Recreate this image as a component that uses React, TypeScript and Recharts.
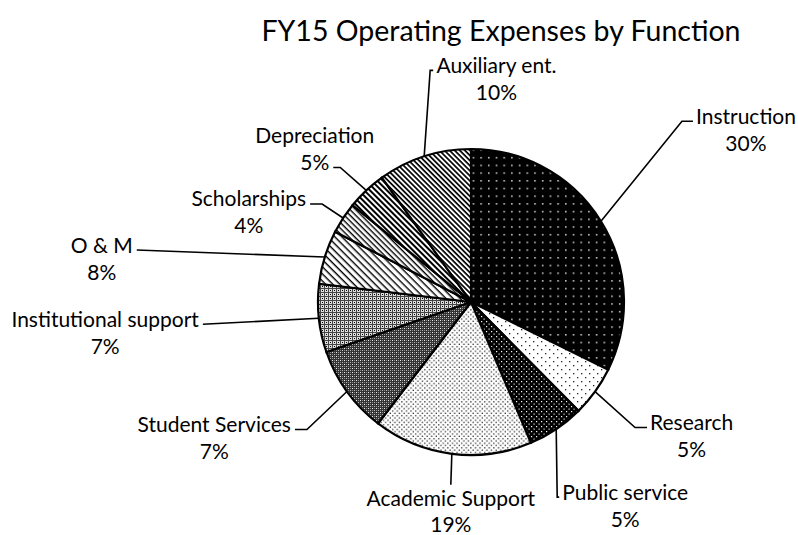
import { Cell, Pie, PieChart } from "recharts";

const categories = [
  "Instruction",
  "Research",
  "Public service",
  "Academic Support",
  "Student Services",
  "Institutional support",
  "O & M",
  "Scholarships",
  "Depreciation",
  "Auxiliary ent.",
];
const shares = [32.3, 5.3, 6.0, 16.8, 9.3, 7.2, 5.7, 3.3, 4.2, 9.9];
// percent text as printed on the labels
const pctLabels = ["30%", "5%", "5%", "19%", "7%", "7%", "8%", "4%", "5%", "10%"];

const data = categories.map((name, i) => ({ name, value: shares[i], pct: pctLabels[i] }));

// leader line elbow relative to slice edge, and which side the text sits on
const labelLayout = [
  { dx: 81, dy: -100, stub: 11, side: "right" },
  { dx: 40, dy: 36, stub: 12, side: "right" },
  { dx: 1, dy: 68, stub: 2, side: "right" },
  { dx: -1, dy: 31, stub: 0, side: "below" },
  { dx: -40, dy: 38, stub: 12, side: "left" },
  { dx: -116, dy: 6, stub: 0, side: "left" },
  { dx: -188, dy: -7, stub: 0, side: "left" },
  { dx: -21, dy: -14, stub: 12, side: "left" },
  { dx: -26, dy: -23, stub: 7, side: "leftPct" },
  { dx: 6, dy: -86, stub: 3, side: "right" },
];

const FONT = "Lato, 'Open Sans', sans-serif";
const LABEL_SIZE = 21;
const LINE_GAP = 27;
const RAD = Math.PI / 180;

let ctx: CanvasRenderingContext2D | null = null;
const textWidth = (s: string) => {
  if (!ctx) ctx = document.createElement("canvas").getContext("2d");
  if (!ctx) return s.length * LABEL_SIZE * 0.5;
  ctx.font = `${LABEL_SIZE}px ${FONT}`;
  return ctx.measureText(s).width;
};

const renderLabel = (props: any) => {
  const { cx, cy, midAngle, outerRadius, index } = props;
  const lay = labelLayout[index];
  const ax = cx + outerRadius * Math.cos(-midAngle * RAD);
  const ay = cy + outerRadius * Math.sin(-midAngle * RAD);
  const ex = ax + lay.dx;
  const ey = ay + lay.dy;
  const dir = lay.side === "right" ? 1 : lay.side === "below" ? 0 : -1;
  const sx = ex + dir * lay.stub;
  const name = data[index].name;
  const pct = data[index].pct;
  const w = textWidth(name);

  let nameX = 0;
  let nameY = 0;
  let pctX = 0;
  let pctY = 0;
  if (lay.side === "right") {
    nameX = sx + 3 + w / 2;
    nameY = ey - 6;
    pctX = nameX;
    pctY = nameY + LINE_GAP;
  } else if (lay.side === "left") {
    nameX = sx - 4 - w / 2;
    nameY = ey - 6;
    pctX = nameX;
    pctY = nameY + LINE_GAP;
  } else if (lay.side === "leftPct") {
    pctX = sx - 4 - textWidth(pct) / 2;
    pctY = ey - 6;
    nameX = pctX;
    nameY = pctY - LINE_GAP;
  } else {
    nameX = ex;
    nameY = ey + 13;
    pctX = ex;
    pctY = nameY + LINE_GAP - 1;
  }

  return (
    <g key={`lbl-${index}`}>
      <polyline
        points={`${ax},${ay} ${ex},${ey} ${sx},${ey}`}
        fill="none"
        stroke="#000"
        strokeWidth={1.6}
      />
      <text
        x={nameX}
        y={nameY}
        textAnchor="middle"
        dominantBaseline="central"
        fontFamily={FONT}
        fontSize={LABEL_SIZE}
        fill="#000"
      >
        {name}
      </text>
      <text
        x={pctX}
        y={pctY}
        textAnchor="middle"
        dominantBaseline="central"
        fontFamily={FONT}
        fontSize={LABEL_SIZE}
        fill="#000"
      >
        {pct}
      </text>
    </g>
  );
};

const sliceFills = ["p0", "p1", "p2", "p3", "p4", "p5", "p6", "p7", "p8", "p9"];

export default function App() {
  return (
    <div style={{ position: "absolute", left: 0, top: 0, width: 798, height: 535, background: "#fff" }}>
      <div
        style={{
          position: "absolute",
          left: 0,
          width: 798,
          top: 11,
          textAlign: "center",
          paddingLeft: 204,
          boxSizing: "border-box",
          fontFamily: FONT,
          fontSize: 28.5,
          color: "#000",
          lineHeight: "38px",
        }}
      >
        FY15 Operating Expenses by Function
      </div>
      <PieChart width={798} height={535} margin={{ top: 0, right: 0, bottom: 0, left: 0 }}>
        <defs>
          <pattern id="p0" width="7.7" height="7.7" patternUnits="userSpaceOnUse">
            <rect width="7.7" height="7.7" fill="#000" />
            <rect x="3" y="3" width="1.4" height="1.4" fill="#fff" />
          </pattern>
          <pattern id="p1" width="8" height="8" patternUnits="userSpaceOnUse">
            <rect width="8" height="8" fill="#fff" />
            <rect x="1" y="1" width="1.3" height="1.3" fill="#222" />
            <rect x="5" y="5" width="1.3" height="1.3" fill="#222" />
          </pattern>
          <pattern id="p2" width="5" height="5" patternUnits="userSpaceOnUse">
            <rect width="5" height="5" fill="#000" />
            <rect x="1" y="1" width="1.2" height="1.2" fill="#fff" />
            <rect x="3.5" y="3.5" width="1.2" height="1.2" fill="#ddd" />
          </pattern>
          <pattern id="p3" width="4.6" height="4.6" patternUnits="userSpaceOnUse">
            <rect width="4.6" height="4.6" fill="#fff" />
            <rect x="1" y="1" width="1.3" height="1.3" fill="#333" />
            <rect x="3.3" y="3.3" width="1.3" height="1.3" fill="#333" />
          </pattern>
          <pattern id="p4" width="4" height="4" patternUnits="userSpaceOnUse">
            <rect width="4" height="4" fill="#333" />
            <rect x="0" y="0" width="1" height="1" fill="#eee" />
            <rect x="2" y="2" width="1" height="1" fill="#bbb" />
            <rect x="2" y="0" width="1" height="1" fill="#888" />
            <rect x="0" y="2" width="1" height="1" fill="#888" />
          </pattern>
          <pattern id="p5" width="4" height="4" patternUnits="userSpaceOnUse">
            <rect width="4" height="4" fill="#ddd" />
            <rect x="0" y="0" width="4" height="1" fill="#444" />
            <rect x="0" y="0" width="1" height="4" fill="#444" />
            <rect x="2" y="2" width="1" height="1" fill="#000" />
          </pattern>
          <pattern id="p6" width="5" height="5" patternUnits="userSpaceOnUse" patternTransform="rotate(45)">
            <rect width="5" height="5" fill="#fff" />
            <rect width="5" height="1.4" fill="#000" />
          </pattern>
          <pattern id="p7" width="4" height="4" patternUnits="userSpaceOnUse" patternTransform="rotate(45)">
            <rect width="4" height="4" fill="#fff" />
            <rect width="4" height="1.4" fill="#000" />
          </pattern>
          <pattern id="p8" width="4" height="4" patternUnits="userSpaceOnUse" patternTransform="rotate(45)">
            <rect width="4" height="4" fill="#fff" />
            <rect width="4" height="2" fill="#000" />
          </pattern>
          <pattern id="p9" width="3.6" height="3.6" patternUnits="userSpaceOnUse" patternTransform="rotate(45)">
            <rect width="3.6" height="3.6" fill="#fff" />
            <rect width="3.6" height="1.7" fill="#000" />
          </pattern>
        </defs>
        <Pie
          data={data}
          dataKey="value"
          nameKey="name"
          cx={471}
          cy={302}
          outerRadius={153}
          startAngle={90}
          endAngle={-270}
          stroke="#000"
          strokeWidth={2.2}
          label={renderLabel}
          labelLine={false}
          isAnimationActive={false}
        >
          {data.map((d, i) => (
            <Cell key={d.name} fill={`url(#${sliceFills[i]})`} />
          ))}
        </Pie>
      </PieChart>
    </div>
  );
}
